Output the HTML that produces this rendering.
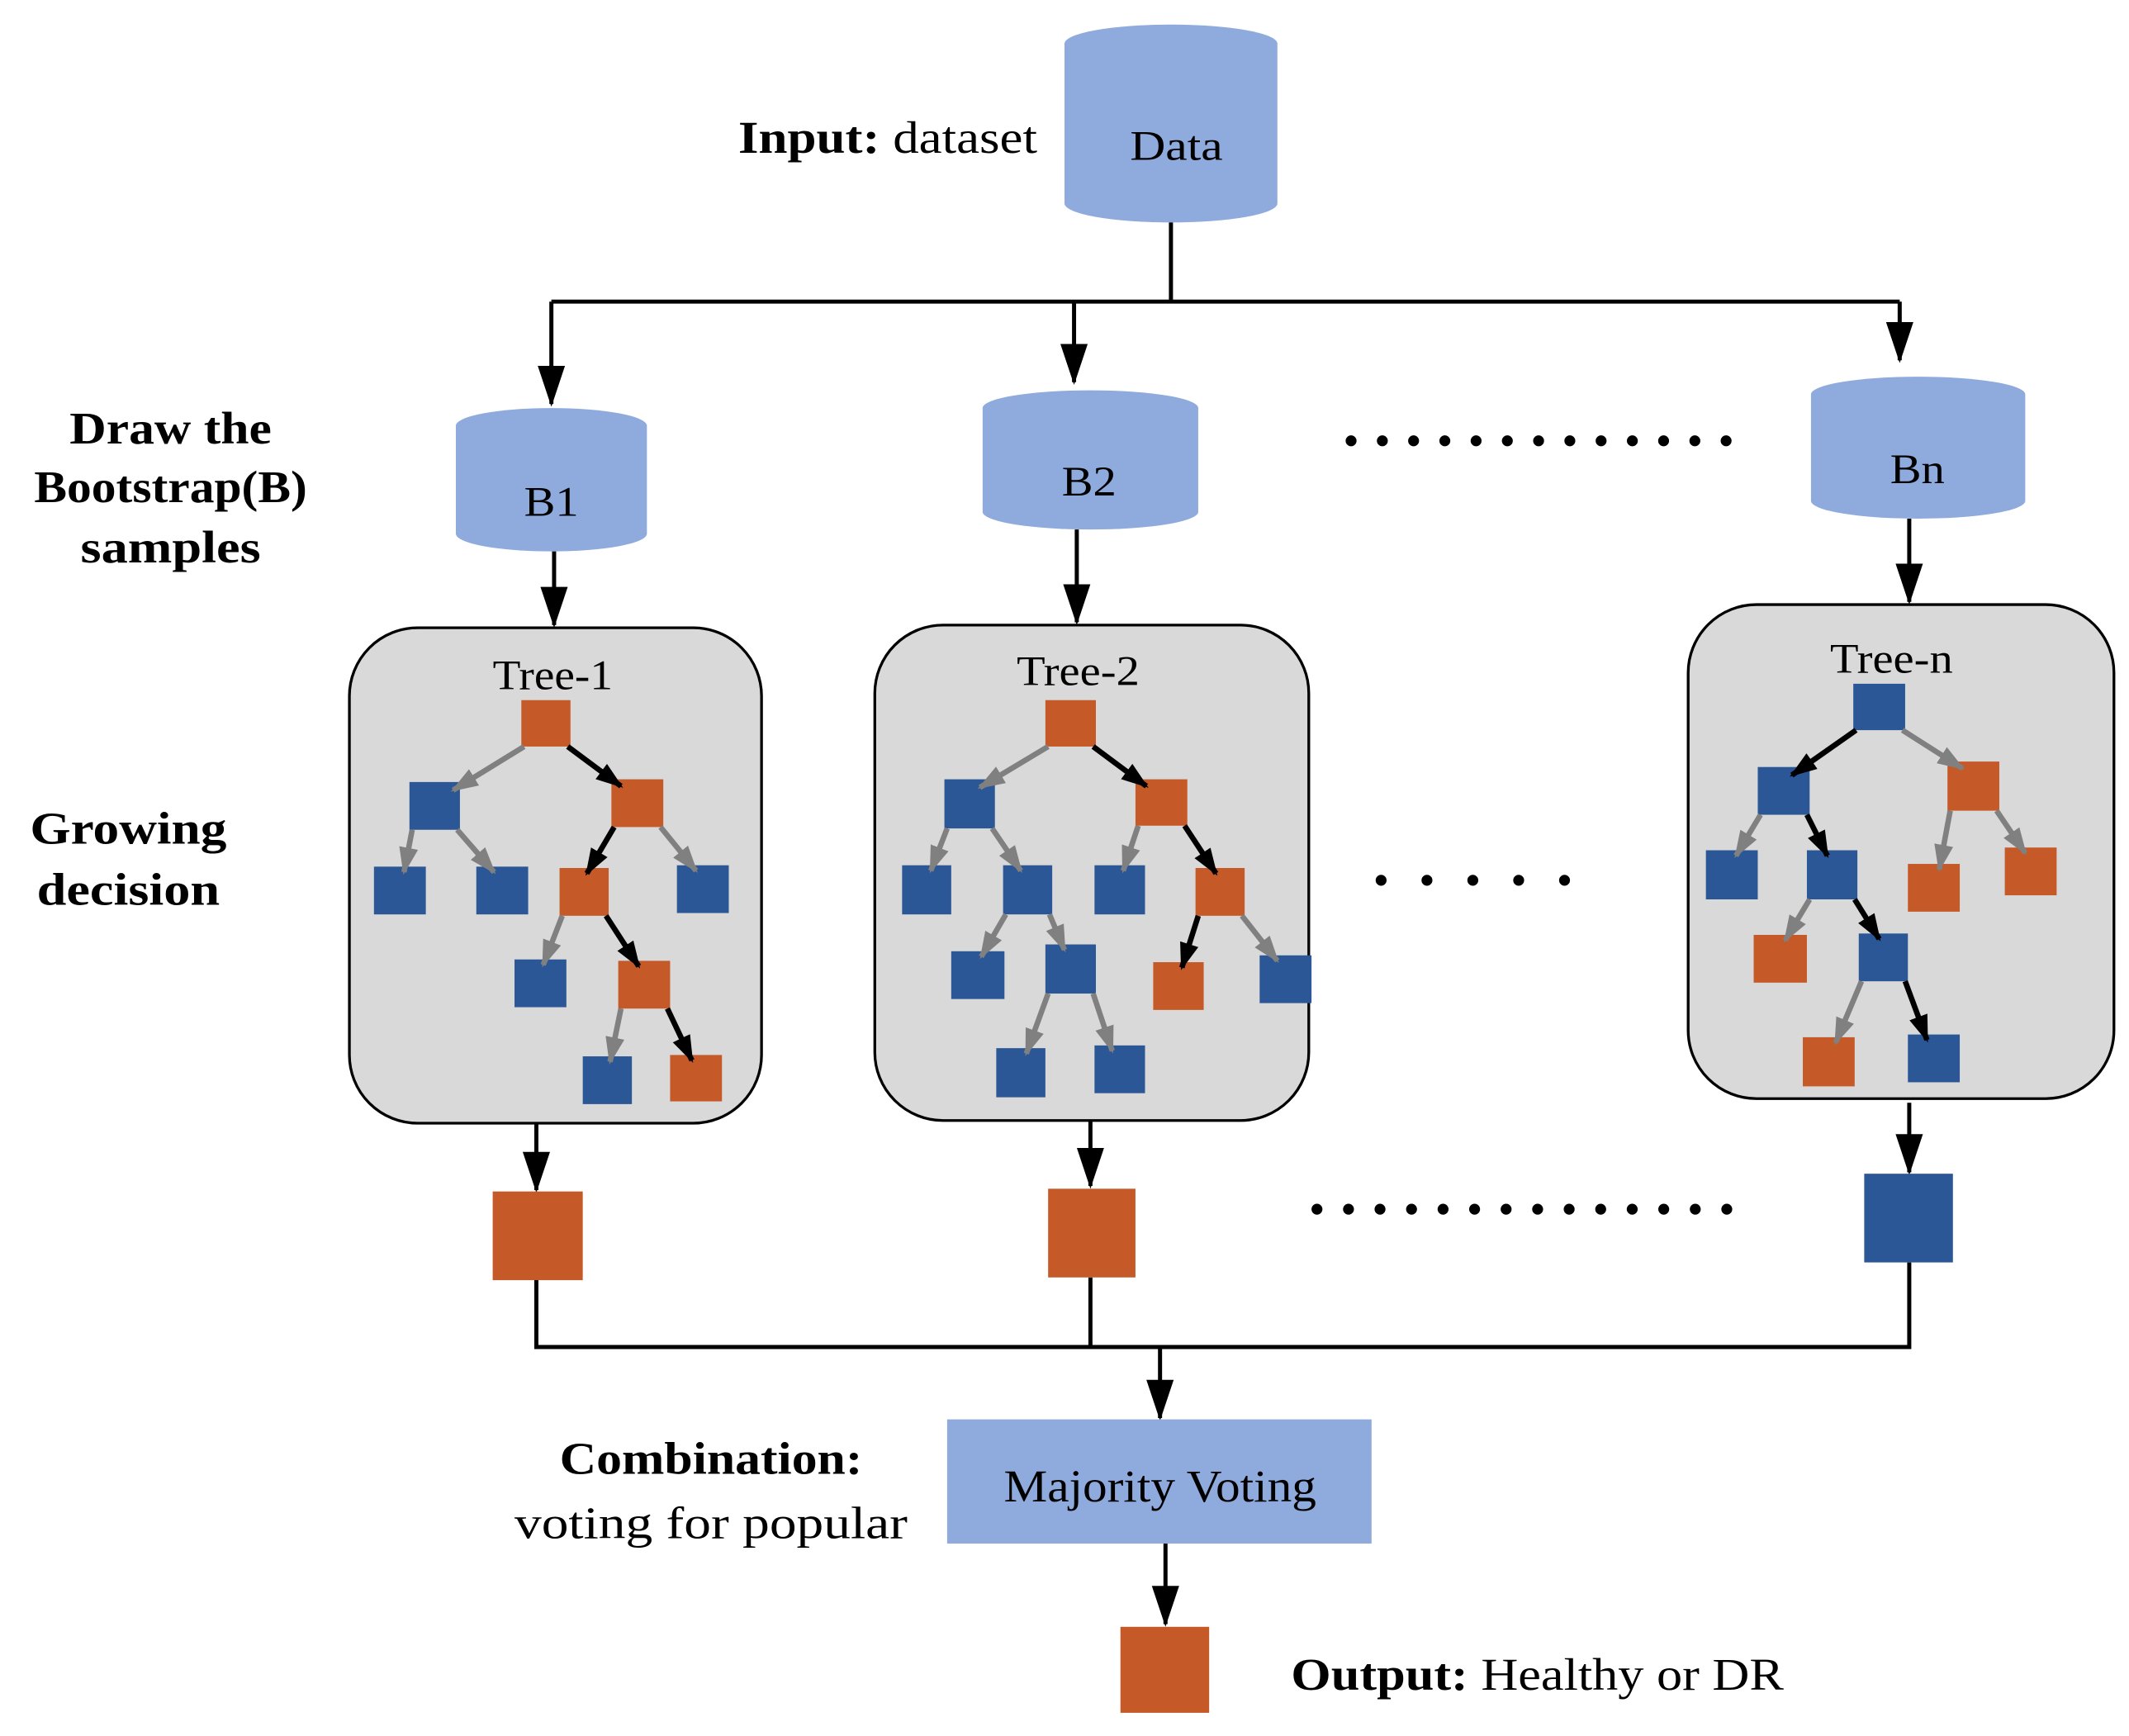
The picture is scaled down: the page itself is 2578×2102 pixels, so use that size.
<!DOCTYPE html>
<html><head><meta charset="utf-8"><style>html,body{margin:0;padding:0;background:#fff}svg{display:block}</style></head>
<body>
<svg width="2578" height="2102" viewBox="0 0 1560 1272" xmlns="http://www.w3.org/2000/svg" font-family="'Liberation Serif', serif">
<defs>
<marker id="ab" markerUnits="userSpaceOnUse" markerWidth="20" markerHeight="20" viewBox="0 0 20 20" refX="18" refY="10" orient="auto"><path d="M0,3 L20,10 L0,17 Z" fill="#000"/></marker>
<marker id="ag" markerUnits="userSpaceOnUse" markerWidth="20" markerHeight="20" viewBox="0 0 20 20" refX="18" refY="10" orient="auto"><path d="M0,3 L20,10 L0,17 Z" fill="#808080"/></marker>
<marker id="am" markerUnits="userSpaceOnUse" markerWidth="24" markerHeight="30" viewBox="0 0 24 30" refX="12" refY="28" orient="0"><path d="M2,0 L22,0 L12,30 Z" fill="#000"/></marker>
</defs>
<rect width="1560" height="1272" fill="#fff"/>

<path d="M780,32 A78,14 0 0 1 936,32 L936,149 A78,14 0 0 1 780,149 Z" fill="#8faadc"/>
<text x="862" y="117" font-size="31" text-anchor="middle" textLength="68" lengthAdjust="spacingAndGlyphs">Data</text>
<text x="541" y="112" font-size="33" textLength="219" lengthAdjust="spacingAndGlyphs"><tspan font-weight="bold">Input:</tspan> dataset</text>

<g stroke="#000" stroke-width="3" fill="none">
<path d="M858,163 L858,221"/>
<path d="M404,221 L1392,221"/>
<path d="M404,221 L404,296" marker-end="url(#am)"/>
<path d="M787,221 L787,280" marker-end="url(#am)"/>
<path d="M1392,221 L1392,264" marker-end="url(#am)"/>
<path d="M406,404 L406,458" marker-end="url(#am)"/>
<path d="M789,388 L789,456" marker-end="url(#am)"/>
<path d="M1399,380 L1399,441" marker-end="url(#am)"/>
<path d="M393,823 L393,872" marker-end="url(#am)"/>
<path d="M799,821 L799,869" marker-end="url(#am)"/>
<path d="M1399,808 L1399,859" marker-end="url(#am)"/>
<path d="M393,938 L393,987 L1399,987 L1399,925"/>
<path d="M799,936 L799,987"/>
<path d="M850,987 L850,1039" marker-end="url(#am)"/>
<path d="M854,1131 L854,1190" marker-end="url(#am)"/>
</g>

<path d="M334,312 A70,13 0 0 1 474,312 L474,391 A70,13 0 0 1 334,391 Z" fill="#8faadc"/>
<text x="404" y="378" font-size="31" text-anchor="middle" textLength="40" lengthAdjust="spacingAndGlyphs">B1</text>
<path d="M720,299 A79,13 0 0 1 878,299 L878,375 A79,13 0 0 1 720,375 Z" fill="#8faadc"/>
<text x="798" y="363" font-size="31" text-anchor="middle" textLength="40" lengthAdjust="spacingAndGlyphs">B2</text>
<path d="M1327,289 A78.5,13 0 0 1 1484,289 L1484,367 A78.5,13 0 0 1 1327,367 Z" fill="#8faadc"/>
<text x="1405" y="354" font-size="31" text-anchor="middle" textLength="40" lengthAdjust="spacingAndGlyphs">Bn</text>

<g font-size="33" font-weight="bold" text-anchor="middle">
<text x="125" y="325" textLength="148" lengthAdjust="spacingAndGlyphs">Draw the</text>
<text x="125" y="368" textLength="200" lengthAdjust="spacingAndGlyphs">Bootstrap(B)</text>
<text x="125" y="412" textLength="132" lengthAdjust="spacingAndGlyphs">samples</text>
<text x="94" y="618" textLength="144" lengthAdjust="spacingAndGlyphs">Growing</text>
<text x="94" y="663" textLength="134" lengthAdjust="spacingAndGlyphs">decision</text>
</g>

<g stroke="#000" stroke-width="8" stroke-linecap="round" stroke-dasharray="0 22.9">
<path d="M990,323 L1266,323"/>
<path d="M1012,645 L1180,645" stroke-dasharray="0 33.6"/>
<path d="M965,886 L1266,886" stroke-dasharray="0 23.1"/>
</g>

<g fill="#d9d9d9" stroke="#000" stroke-width="2">
<rect x="256" y="460" width="302" height="363" rx="50"/>
<rect x="641" y="458" width="318" height="363" rx="50"/>
<rect x="1237" y="443" width="312" height="362" rx="50"/>
</g>
<g font-size="31" text-anchor="middle">
<text x="405" y="505" textLength="88" lengthAdjust="spacingAndGlyphs">Tree-1</text>
<text x="790" y="502" textLength="90" lengthAdjust="spacingAndGlyphs">Tree-2</text>
<text x="1386" y="493" textLength="90" lengthAdjust="spacingAndGlyphs">Tree-n</text>
</g>

<g fill="#c55a28">
<rect x="382" y="513" width="36" height="34"/><rect x="448" y="571" width="38" height="35"/>
<rect x="410" y="636" width="36" height="35"/><rect x="453" y="704" width="38" height="35"/>
<rect x="491" y="773" width="38" height="34"/>
<rect x="766" y="513" width="37" height="34"/><rect x="832" y="571" width="38" height="34"/>
<rect x="876" y="636" width="36" height="35"/><rect x="845" y="705" width="37" height="35"/>
<rect x="1427" y="558" width="38" height="36"/><rect x="1398" y="633" width="38" height="35"/>
<rect x="1469" y="621" width="38" height="35"/><rect x="1285" y="685" width="39" height="35"/>
<rect x="1321" y="760" width="38" height="36"/>
<rect x="361" y="873" width="66" height="65"/><rect x="768" y="871" width="64" height="65"/>
<rect x="821" y="1192" width="65" height="63"/>
</g>
<g fill="#2b5797">
<rect x="300" y="573" width="37" height="35"/><rect x="274" y="635" width="38" height="35"/>
<rect x="349" y="635" width="38" height="35"/><rect x="496" y="634" width="38" height="35"/>
<rect x="377" y="703" width="38" height="35"/><rect x="427" y="774" width="36" height="35"/>
<rect x="692" y="571" width="37" height="36"/><rect x="661" y="634" width="36" height="36"/>
<rect x="735" y="634" width="36" height="36"/><rect x="802" y="634" width="37" height="36"/>
<rect x="697" y="697" width="39" height="35"/><rect x="766" y="692" width="37" height="36"/>
<rect x="923" y="700" width="38" height="35"/><rect x="730" y="768" width="36" height="36"/>
<rect x="802" y="766" width="37" height="35"/>
<rect x="1358" y="501" width="38" height="34"/><rect x="1288" y="562" width="38" height="35"/>
<rect x="1250" y="623" width="38" height="36"/><rect x="1324" y="623" width="37" height="36"/>
<rect x="1362" y="684" width="36" height="35"/><rect x="1398" y="758" width="38" height="35"/>
<rect x="1366" y="860" width="65" height="65"/>
</g>

<g stroke="#808080" stroke-width="4" marker-end="url(#ag)">
<path d="M384,547 L332,579"/><path d="M302,608 L296,639"/><path d="M335,608 L362,639"/>
<path d="M484,606 L510,638"/><path d="M412,671 L398,707"/><path d="M455,739 L447,778"/>
<path d="M768,547 L718,577"/><path d="M694,607 L682,638"/><path d="M727,607 L748,638"/>
<path d="M834,605 L823,638"/><path d="M737,670 L719,701"/><path d="M769,670 L780,696"/>
<path d="M910,671 L936,704"/><path d="M768,728 L752,772"/><path d="M801,728 L815,770"/>
<path d="M1394,535 L1438,563"/><path d="M1290,597 L1272,627"/><path d="M1429,594 L1421,637"/>
<path d="M1463,594 L1484,625"/><path d="M1326,659 L1308,689"/><path d="M1364,719 L1345,764"/>
</g>
<g stroke="#000" stroke-width="4" marker-end="url(#ab)">
<path d="M416,547 L455,576"/><path d="M450,606 L430,640"/><path d="M444,671 L468,708"/>
<path d="M489,739 L507,777"/>
<path d="M801,547 L840,576"/><path d="M868,605 L891,640"/><path d="M878,671 L866,709"/>
<path d="M1360,535 L1313,568"/><path d="M1324,597 L1339,627"/><path d="M1359,659 L1377,688"/>
<path d="M1396,719 L1412,762"/>
</g>

<rect x="694" y="1040" width="311" height="91" fill="#8faadc"/>
<text x="850" y="1100" font-size="33" text-anchor="middle" textLength="229" lengthAdjust="spacingAndGlyphs">Majority Voting</text>
<text x="521" y="1080" font-size="33" font-weight="bold" text-anchor="middle" textLength="222" lengthAdjust="spacingAndGlyphs">Combination:</text>
<text x="521" y="1127" font-size="33" text-anchor="middle" textLength="288" lengthAdjust="spacingAndGlyphs">voting for popular</text>
<text x="946" y="1238" font-size="33" textLength="361" lengthAdjust="spacingAndGlyphs"><tspan font-weight="bold">Output:</tspan> Healthy or DR</text>
</svg>
</body></html>
